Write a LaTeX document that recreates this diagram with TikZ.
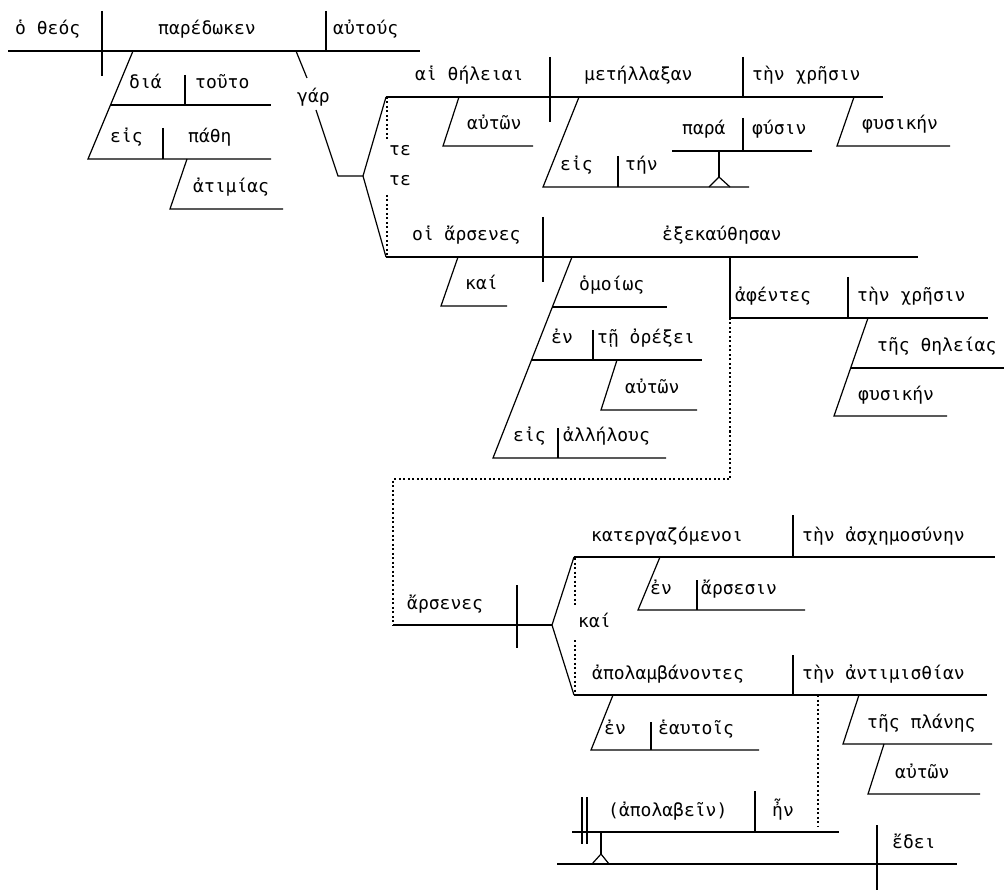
\documentclass[tikz,border=0pt]{standalone}
\usepackage{fontspec}
\newfontfamily\grk{DejaVu Sans Mono}
\begin{document}
\begin{tikzpicture}[x=1pt,y=-1pt,
  txt/.style={font=\grk\fontsize{18}{20}\selectfont, inner sep=0pt, anchor=base west},
  ln/.style={line width=1.2pt, line cap=butt, line join=miter},
  dotln/.style={line width=1.2pt, dash pattern=on 2pt off 2.5pt}]
\useasboundingbox[fill=white] (0,0) rectangle (1004,890);
% ---------------- main clause
\draw[ln] (8,51) -- (420,51);
\draw[ln] (102,11) -- (102,76);
\draw[ln] (326,11) -- (326,51);
\draw[ln] (133,51) -- (88,159) -- (271,159);
\draw[ln] (110,105) -- (271,105);
\draw[ln] (185,75) -- (185,105);
\draw[ln] (163,128) -- (163,159);
\draw[ln] (187,159) -- (170,209) -- (283,209);
\node[txt] (theos) at (15,35) {ὁ θεός};
\node[txt] (paredoken) at (158,35) {παρέδωκεν};
\node[txt] (autous) at (333,35) {αὐτούς};
\node[txt] (dia) at (129,89) {διά};
\node[txt] (touto) at (195,89) {τοῦτο};
\node[txt] (eis1) at (110,143) {εἰς};
\node[txt] (pathe) at (188,143) {πάθη};
\node[txt] (atimias) at (193,193) {ἀτιμίας};
% gar connector
\draw[ln] (296,51) -- (307,78);
\draw[ln] (316,110) -- (338,176) -- (363,176);
\node[txt] (gar) at (297,103) {γάρ};
\draw[ln] (386,97) -- (363,176) -- (386,257);
\draw[dotln] (387,97) -- (387,140);
\draw[dotln] (387,195) -- (387,257);
\node[txt] (te1) at (389,156) {τε};
\node[txt] (te2) at (389,186) {τε};
% ---------------- upper clause
\draw[ln] (386,97) -- (883,97);
\draw[ln] (550,57) -- (550,122);
\draw[ln] (743,57) -- (743,97);
\draw[ln] (459,97) -- (443,146) -- (533,146);
\draw[ln] (579,97) -- (543,187) -- (749,187);
\draw[ln] (618,156) -- (618,187);
\draw[ln] (672,151) -- (812,151);
\draw[ln] (743,118) -- (743,151);
\draw[ln] (719,151) -- (719,177);
\draw[ln] (709,187) -- (719,177) -- (730,187);
\draw[ln] (854,97) -- (837,146) -- (950,146);
\node[txt] (theleiai) at (415,81) {αἱ θήλειαι};
\node[txt] (metellaxan) at (584,81) {μετήλλαξαν};
\node[txt] (chresin1) at (752,81) {τὴν χρῆσιν};
\node[txt] (auton1) at (467,130) {αὐτῶν};
\node[txt] (eis2) at (560,171) {εἰς};
\node[txt] (ten) at (625,171) {τήν};
\node[txt] (para) at (682,135) {παρά};
\node[txt] (physin) at (752,135) {φύσιν};
\node[txt] (physiken1) at (862,130) {φυσικήν};
% ---------------- lower clause
\draw[ln] (386,257) -- (918,257);
\draw[ln] (543,217) -- (543,282);
\draw[ln] (458,257) -- (441,306) -- (507,306);
\draw[ln] (572,257) -- (493,458) -- (666,458);
\draw[ln] (552,307) -- (667,307);
\draw[ln] (531,360) -- (702,360);
\draw[ln] (593,330) -- (593,360);
\draw[ln] (617,360) -- (601,410) -- (697,410);
\draw[ln] (558,428) -- (558,458);
\node[txt] (arsenes1) at (412,241) {οἱ ἄρσενες};
\node[txt] (exekauthesan) at (662,241) {ἐξεκαύθησαν};
\node[txt] (kai1) at (465,290) {καί};
\node[txt] (homoios) at (579,291) {ὁμοίως};
\node[txt] (en1) at (551,344) {ἐν};
\node[txt] (orexei) at (597,344) {τῇ ὀρέξει};
\node[txt] (auton2) at (625,394) {αὐτῶν};
\node[txt] (eis3) at (513,442) {εἰς};
\node[txt] (allelous) at (563,442) {ἀλλήλους};
% aphentes
\draw[ln] (730,257) -- (730,318) -- (988,318);
\draw[ln] (848,277) -- (848,318);
\draw[ln] (868,318) -- (834,416) -- (947,416);
\draw[ln] (851,368) -- (1004,368);
\node[txt] (aphentes) at (735,302) {ἀφέντες};
\node[txt] (chresin2) at (857,302) {τὴν χρῆσιν};
\node[txt] (theleias) at (877,352) {τῆς θηλείας};
\node[txt] (physiken2) at (858,400) {φυσικήν};
\draw[dotln] (730,318) -- (730,479) -- (393,479) -- (393,625);
% ---------------- arsenes
\draw[ln] (393,625) -- (552,625);
\draw[ln] (517,585) -- (517,648);
\draw[ln] (574,557) -- (552,625) -- (574,695);
\draw[dotln] (575,558) -- (575,605);
\draw[dotln] (575,640) -- (575,695);
\draw[ln] (574,557) -- (995,557);
\draw[ln] (793,515) -- (793,557);
\draw[ln] (660,557) -- (638,610) -- (805,610);
\draw[ln] (697,580) -- (697,610);
\draw[ln] (574,695) -- (987,695);
\draw[ln] (793,655) -- (793,695);
\draw[dotln] (818,695) -- (818,827);
\draw[ln] (859,695) -- (843,744) -- (992,744);
\draw[ln] (884,744) -- (868,794) -- (980,794);
\draw[ln] (613,695) -- (591,750) -- (759,750);
\draw[ln] (651,722) -- (651,750);
\node[txt] (arsenes2) at (407,609) {ἄρσενες};
\node[txt] (kai2) at (578,627) {καί};
\node[txt] (katergaz) at (591,541) {κατεργαζόμενοι};
\node[txt] (aschem) at (802,541) {τὴν ἀσχημοσύνην};
\node[txt] (en2) at (650,594) {ἐν};
\node[txt] (arsesin) at (701,594) {ἄρσεσιν};
\node[txt] (apolamb) at (592,679) {ἀπολαμβάνοντες};
\node[txt] (antimis) at (802,679) {τὴν ἀντιμισθίαν};
\node[txt] (en3) at (604,734) {ἐν};
\node[txt] (heautois) at (658,734) {ἑαυτοῖς};
\node[txt] (planes) at (867,728) {τῆς πλάνης};
\node[txt] (auton3) at (895,778) {αὐτῶν};
% ---------------- bottom
\draw[ln] (572,832) -- (839,832);
\draw[ln] (755,791) -- (755,832);
\draw[ln] (582,797) -- (582,844);
\draw[ln] (587,797) -- (587,844);
\draw[ln] (601,832) -- (601,854);
\draw[ln] (592,864) -- (601,854) -- (609,864);
\draw[ln] (557,864) -- (957,864);
\draw[ln] (877,825) -- (877,890);
\node[txt] (apolabein) at (608,816) {(ἀπολαβεῖν)};
\node[txt] (hen) at (772,816) {ἦν};
\node[txt] (edei) at (892,848) {ἔδει};
\end{tikzpicture}
\end{document}
